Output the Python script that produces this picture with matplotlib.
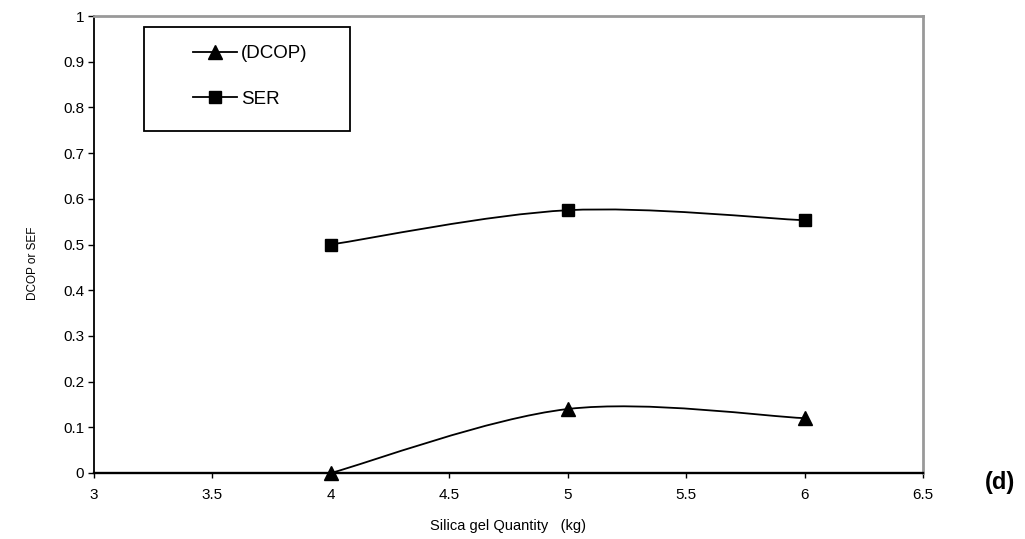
import matplotlib.pyplot as plt
from matplotlib.path import Path
from matplotlib.patches import PathPatch, Rectangle
from matplotlib.lines import Line2D

plt.rcParams['font.family'] = ['Liberation Sans', 'DejaVu Sans']

# silica gel quantity (kg)
silica = [4, 5, 6]
# DCOP and SER values
dcop = [0.0, 0.14, 0.12]
ser = [0.5, 0.575, 0.553]

xticks = [3, 3.5, 4, 4.5, 5, 5.5, 6, 6.5]
xtick_labels = ['3', '3.5', '4', '4.5', '5', '5.5', '6', '6.5']
yticks = [0, 0.1, 0.2, 0.3, 0.4, 0.5, 0.6, 0.7, 0.8, 0.9, 1]
ytick_labels = ['0', '0.1', '0.2', '0.3', '0.4', '0.5', '0.6', '0.7', '0.8', '0.9', '1']


def smooth_path(xs, ys):
    # excel style smoothed line: cubic bezier through every point
    pts = list(zip(xs, ys))
    n = len(pts)
    verts = [pts[0]]
    codes = [Path.MOVETO]
    for i in range(n - 1):
        p0 = pts[i - 1] if i > 0 else pts[i]
        p1 = pts[i]
        p2 = pts[i + 1]
        p3 = pts[i + 2] if i + 2 < n else pts[i + 1]
        c1 = (p1[0] + (p2[0] - p0[0]) / 6, p1[1] + (p2[1] - p0[1]) / 6)
        c2 = (p2[0] - (p3[0] - p1[0]) / 6, p2[1] - (p3[1] - p1[1]) / 6)
        verts += [c1, c2, p2]
        codes += [Path.CURVE4] * 3
    return Path(verts, codes)


fig = plt.figure(figsize=(10.25, 5.39), dpi=100)
ax = fig.add_axes([94 / 1025, 1 - 473 / 539, 829 / 1025, 457 / 539])

for ys, mk, ms in [(dcop, '^', 10), (ser, 's', 9)]:
    ax.add_patch(PathPatch(smooth_path(silica, ys), fill=False, edgecolor='black', lw=1.3, zorder=3))
    ax.plot(silica, ys, ls='none', marker=mk, ms=ms, color='black', zorder=4, clip_on=False)

ax.set_xlim(3, 6.5)
ax.set_ylim(0, 1)
ax.set_xticks(xticks)
ax.set_xticklabels(xtick_labels)
ax.set_yticks(yticks)
ax.set_yticklabels(ytick_labels)
ax.tick_params(axis='y', direction='out', length=4.3, width=1.0, pad=2.9, labelsize=11)
ax.tick_params(axis='x', direction='out', length=3.6, width=1.0, pad=7.5, labelsize=11)

ax.spines['left'].set_linewidth(1.3)
ax.spines['bottom'].set_linewidth(1.7)
for s in ['top', 'right']:
    ax.spines[s].set_color('#999999')
    ax.spines[s].set_linewidth(2)

ax.set_xlabel('Silica gel Quantity   (kg)', fontsize=10.5)
ax.xaxis.set_label_coords(0.5, -0.101)
ax.set_ylabel('DCOP or SEF', fontsize=8.5)
ax.yaxis.set_label_coords(-0.066, 0.46)

# legend box
ax.add_patch(Rectangle((0.0603, 0.7484), 0.2485, 0.2276, transform=ax.transAxes,
                       fill=False, edgecolor='black', lw=1.3, zorder=5))
handles = [Line2D([], [], color='black', lw=1.3, marker='^', ms=10),
           Line2D([], [], color='black', lw=1.3, marker='s', ms=9)]
ax.legend(handles, ['(DCOP)', 'SER'], loc='upper left', bbox_to_anchor=(0.1194, 0.936),
          frameon=False, fontsize=13.5, borderpad=0, handlelength=2.35, handletextpad=0.2,
          labelspacing=1.5, numpoints=1, borderaxespad=0)

fig.text(1000 / 1025, 1 - 483 / 539, '(d)', fontsize=17, fontweight='bold', ha='center', va='center')

fig.savefig('out.png', dpi=100)
